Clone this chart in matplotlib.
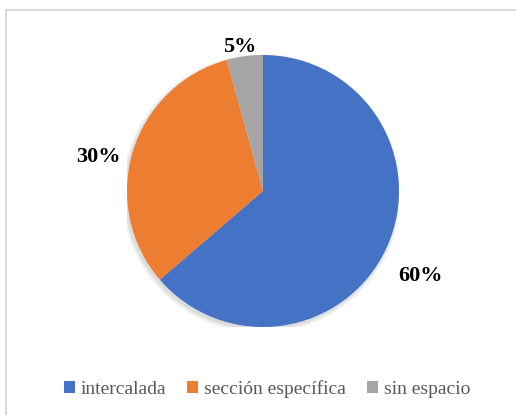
import matplotlib
matplotlib.use('Agg')
import matplotlib.pyplot as plt
from matplotlib.lines import Line2D
from matplotlib.patches import Circle

# datos
categorias = ['intercalada', 'sección específica', 'sin espacio']
valores = [63.7, 32.0, 4.3]
etiquetas = ['60%', '30%', '5%']
colores = ['#4472C4', '#ED7D31', '#A5A5A5']

plt.rcParams['font.family'] = ['Liberation Serif', 'DejaVu Serif']

W, H = 516, 415
fig = plt.figure(figsize=(W / 100, H / 100), dpi=100, facecolor='white')

# marco gris del área del gráfico
fig.add_artist(Line2D([6 / W, 6 / W], [0, 1 - 10 / H], color='#D9D9D9', lw=1.5))
fig.add_artist(Line2D([6 / W, 1], [1 - 10 / H, 1 - 10 / H], color='#D9D9D9', lw=1.5))

cx, cy, r = 263, 191, 136
ax = fig.add_axes([(cx - r) / W, (H - cy - r) / H, 2 * r / W, 2 * r / H])

# sombra suave
for i in range(6):
    ax.add_patch(Circle((-0.012, -0.018), 1.0 + i * 0.006, color='black',
                        alpha=0.025, lw=0, zorder=0))

wedges, _ = ax.pie(valores, colors=colores, startangle=90, counterclock=False,
                   wedgeprops=dict(linewidth=0))
for w in wedges:
    w.set_zorder(2)

pos_etiquetas = [(1.16, -0.625), (-1.21, 0.25), (-0.17, 1.06)]
for txt, (x, y) in zip(etiquetas, pos_etiquetas):
    ax.text(x, y, txt, ha='center', va='center', fontsize=16, family='Liberation Serif',
            fontweight='bold', color='black', clip_on=False)

ax.set_xlim(-1, 1)
ax.set_ylim(-1, 1)
ax.set_aspect('equal')
ax.axis('off')

leg = fig.legend(wedges, categorias, loc='center', bbox_to_anchor=(267 / W, 1 - 389 / H),
                 ncol=3, frameon=False, prop=dict(family='Liberation Serif', size=14),
                 handlelength=0.55, handleheight=0.55, handletextpad=0.3,
                 columnspacing=1.1)
for t in leg.get_texts():
    t.set_color('#595959')

fig.savefig('out.png', dpi=100, facecolor='white')
